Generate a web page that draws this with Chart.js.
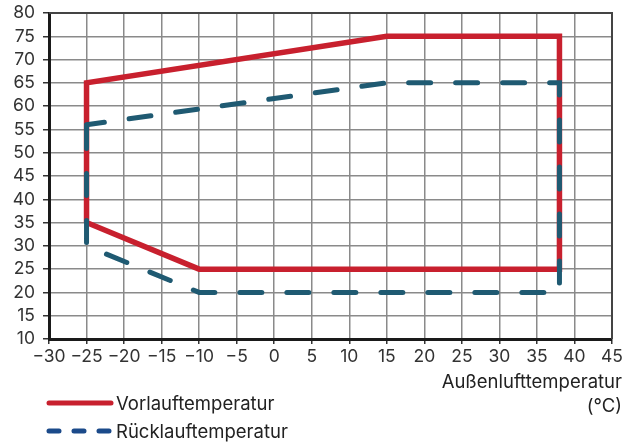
<!DOCTYPE html>
<html>
<head>
<meta charset="utf-8">
<script src="https://cdn.jsdelivr.net/npm/chart.js@4/dist/chart.umd.min.js"></script>
<style>
  html, body { margin: 0; padding: 0; background: #fff; }
  #wrap { position: relative; width: 625px; height: 443px; font-family: Inter, "Noto Sans", sans-serif; color: #222; }
  canvas { position: absolute; left: 0; top: 0; }
  .t { position: absolute; font-size: 18.5px; white-space: nowrap; line-height: 1; }
  .leg { position: absolute; left: 44px; display: flex; align-items: center; font-size: 18.5px; }
  .leg svg { display: block; margin-right: 1px; }
</style>
</head>
<body>
<div id="wrap">
  <canvas id="c" width="625" height="443"></canvas>
  <div class="t" style="right:3px; top:372px;">Außenlufttemperatur</div>
  <div class="t" style="right:3px; top:396px;">(°C)</div>
  <div class="leg" style="top:392px;">
    <svg width="71" height="20"><line x1="5" y1="10" x2="67" y2="10" stroke="#C8202E" stroke-width="5" stroke-linecap="round"/></svg>
    <span>Vorlauftemperatur</span>
  </div>
  <div class="leg" style="top:420px;">
    <svg width="71" height="20"><line x1="5" y1="10" x2="67" y2="10" stroke="#1B4A8A" stroke-width="5" stroke-linecap="round" stroke-dasharray="10 15"/></svg>
    <span>Rücklauftemperatur</span>
  </div>
</div>
<script>
const xTicksMin = -30, xTicksMax = 45, xStep = 5;
const yTicksMin = 10, yTicksMax = 80, yStep = 5;

const vorlaufX = [-25, -25, 15, 38, 38, -10, -25];
const vorlaufY = [35, 65, 75, 75, 25, 25, 35];

const ruecklaufX = [-25, 15, 38, 38, -10, -25, -25];
const ruecklaufY = [56, 65, 65, 20, 20, 30, 56];

const toPts = (xs, ys) => xs.map((x, i) => ({ x: x, y: ys[i] }));

const frame = {
  id: 'frame',
  beforeDatasetsDraw(chart) {
    const { ctx, chartArea: a } = chart;
    ctx.save();
    ctx.strokeStyle = '#444';
    ctx.lineWidth = 2;
    ctx.beginPath();
    ctx.moveTo(a.left, a.top);
    ctx.lineTo(a.right, a.top);
    ctx.lineTo(a.right, a.bottom);
    ctx.stroke();
    ctx.restore();
  }
};

const font = { family: 'Inter, "Noto Sans", sans-serif', size: 17.5 };

new Chart(document.getElementById('c'), {
  type: 'scatter',
  data: {
    datasets: [
      {
        label: 'Rücklauftemperatur',
        data: toPts(ruecklaufX, ruecklaufY),
        showLine: true,
        borderColor: '#1F5A72',
        borderWidth: 5,
        borderDash: [22, 25],
        borderDashOffset: 4,
        borderCapStyle: 'round',
        borderJoinStyle: 'miter',
        pointRadius: 0,
        fill: false,
        tension: 0
      },
      {
        label: 'Vorlauftemperatur',
        data: toPts(vorlaufX, vorlaufY),
        showLine: true,
        borderColor: '#C8202E',
        borderWidth: 5.5,
        borderCapStyle: 'butt',
        borderJoinStyle: 'miter',
        pointRadius: 0,
        fill: false,
        tension: 0
      }
    ]
  },
  options: {
    responsive: false,
    animation: false,
    layout: { padding: { top: 13, right: 13, bottom: 0, left: 0 } },
    plugins: { legend: { display: false }, tooltip: { enabled: false } },
    scales: {
      x: {
        type: 'linear',
        min: xTicksMin, max: xTicksMax,
        afterFit(s) { s.height = 104; },
        ticks: {
          stepSize: xStep,
          autoSkip: false,
          color: '#333',
          font: font,
          padding: 2,
          maxRotation: 0,
          callback: v => String(v).replace('-', '\u2212')
        },
        grid: { color: '#8a8a8a', lineWidth: 1.5, tickLength: 5, tickColor: '#333' },
        border: { color: '#1a1a1a', width: 3 }
      },
      y: {
        type: 'linear',
        min: yTicksMin, max: yTicksMax,
        afterFit(s) { s.width = 49; s.paddingTop = 0; s.paddingBottom = 0; },
        ticks: {
          stepSize: yStep,
          autoSkip: false,
          color: '#333',
          font: font,
          padding: 8
        },
        grid: { color: '#8a8a8a', lineWidth: 1.5, tickLength: 6, tickColor: '#333' },
        border: { color: '#1a1a1a', width: 3 }
      }
    }
  },
  plugins: [frame]
});
</script>
</body>
</html>
